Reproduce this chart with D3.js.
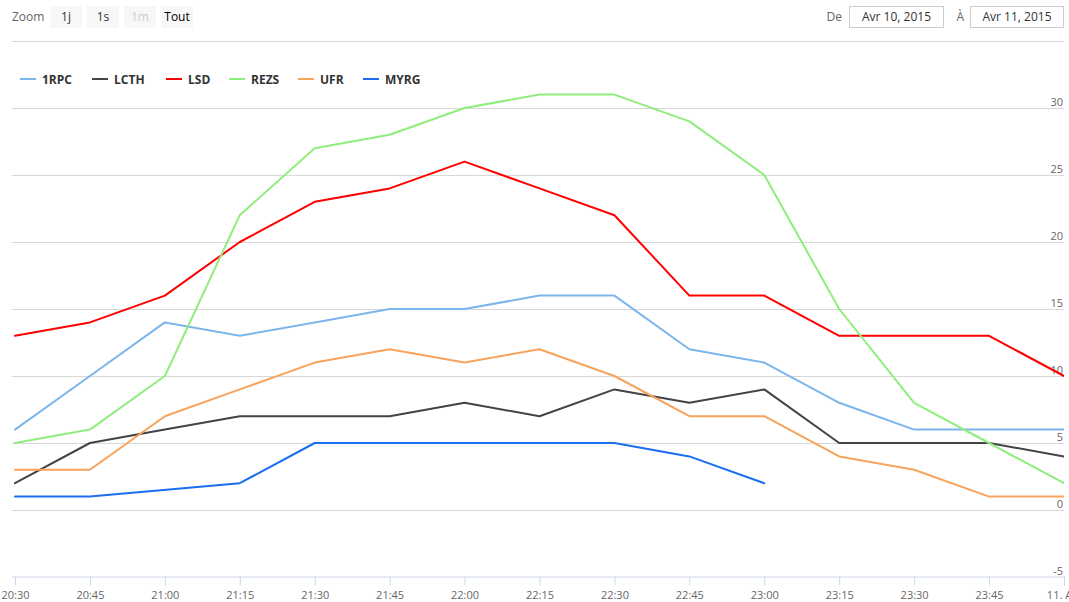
<!DOCTYPE html>
<html>
<head>
<meta charset="utf-8">
<script src="https://cdn.jsdelivr.net/npm/d3@7"></script>
<style>
  html, body { margin: 0; padding: 0; background: #fff; }
  svg { display: block; font-family: "Open Sans", "DejaVu Sans", sans-serif; }
</style>
</head>
<body>
<svg id="chart" width="1069" height="602"></svg>
<script>
// ---- Data ----
const times = ["2015-04-10T20:30","2015-04-10T20:45","2015-04-10T21:00","2015-04-10T21:15",
  "2015-04-10T21:30","2015-04-10T21:45","2015-04-10T22:00","2015-04-10T22:15",
  "2015-04-10T22:30","2015-04-10T22:45","2015-04-10T23:00","2015-04-10T23:15",
  "2015-04-10T23:30","2015-04-10T23:45","2015-04-11T00:00"];
const xTickLabels = ["20:30","20:45","21:00","21:15","21:30","21:45","22:00","22:15",
  "22:30","22:45","23:00","23:15","23:30","23:45","11. Avr"];
const yTicks = [-5, 0, 5, 10, 15, 20, 25, 30, 35];
const yTickLabels = ["-5","0","5","10","15","20","25","30",""];

const seriesNames = ["1RPC","LCTH","LSD","REZS","UFR","MYRG"];
const seriesColors = ["#7cb5ec","#434348","#ff0000","#90ed7d","#f7a35c","#1a6ef0"];
const s1RPC = [6,10,14,13,14,15,15,16,16,12,11,8,6,6,6];
const sLCTH = [2,5,6,7,7,7,8,7,9,8,9,5,5,5,4];
const sLSD  = [13,14,16,20,23,24,26,24,22,16,16,13,13,13,10];
const sREZS = [5,6,10,22,27,28,30,31,31,29,25,15,8,5,2];
const sUFR  = [3,3,7,9,11,12,11,12,10,7,7,4,3,1,1];
const sMYRG = [1,1,null,2,5,5,5,5,5,4,2,null,null,null,null];
const seriesValues = [s1RPC, sLCTH, sLSD, sREZS, sUFR, sMYRG];

const rangeButtons = ["1j","1s","1m","Tout"];
const fromDate = "Avr 10, 2015";
const toDate = "Avr 11, 2015";

// ---- Layout ----
const svg = d3.select("#chart");
const plotLeft = 12, plotRight = 1064, plotTop = 41, plotBottom = 577;
const parse = d3.utcParse("%Y-%m-%dT%H:%M");
const dates = times.map(parse);

const x = d3.scaleUtc().domain([dates[0], dates[dates.length-1]]).range([15, plotRight]);
const y = d3.scaleLinear().domain([-5, 35]).range([plotBottom, plotTop]);

// clip
svg.append("defs").append("clipPath").attr("id","plotclip")
  .append("rect").attr("x", plotLeft).attr("y", plotTop - 5)
  .attr("width", plotRight - plotLeft).attr("height", plotBottom - plotTop + 10);

// grid
const grid = svg.append("g").attr("transform", `translate(${plotLeft},0)`)
  .call(d3.axisRight(y).tickValues(yTicks.filter(v => v > -5)).tickSize(plotRight - plotLeft).tickFormat(""));
grid.select(".domain").remove();
grid.selectAll("line").attr("stroke", "#d8d8d8").attr("stroke-width", 1).attr("shape-rendering","crispEdges");

// y labels (inside right)
const yAx = svg.append("g").attr("transform", `translate(1063,0)`)
  .call(d3.axisLeft(y).tickValues(yTicks).tickSize(0).tickPadding(0)
    .tickFormat((d,i) => yTickLabels[i]));
yAx.select(".domain").remove();
yAx.selectAll("text").attr("fill", "#666").attr("font-size", "11px")
  .attr("dy", "-3").attr("font-family", "Open Sans, sans-serif");

// x axis
const xAx = svg.append("g").attr("transform", `translate(0,${plotBottom - 0.5})`)
  .call(d3.axisBottom(x).tickValues(dates).tickSize(9).tickPadding(6)
    .tickFormat((d,i) => xTickLabels[i]));
xAx.select(".domain").attr("d", `M${plotLeft},0.5H${plotRight}`).attr("stroke", "#ccd6eb");
xAx.selectAll(".tick line").attr("stroke", "#ccd6eb");
xAx.selectAll("text").attr("fill", "#666").attr("font-size", "11px").attr("font-family", "Open Sans, sans-serif");

// lines
const plot = svg.append("g").attr("clip-path", "url(#plotclip)");
seriesValues.forEach((vals, si) => {
  const pts = vals.map((v, i) => ({d: dates[i], v})).filter(p => p.v !== null);
  const line = d3.line().x(p => x(p.d)).y(p => y(p.v));
  plot.append("path").datum(pts).attr("d", line)
    .attr("fill", "none").attr("stroke", seriesColors[si]).attr("stroke-width", 2)
    .attr("stroke-linejoin", "round").attr("stroke-linecap", "round");
});

// legend
const legendX = [20, 92, 166, 229, 298, 363];
const legend = svg.append("g");
seriesNames.forEach((n, i) => {
  const g = legend.append("g").attr("transform", `translate(${legendX[i]},79)`);
  g.append("line").attr("x1", 0).attr("x2", 16).attr("y1", 0).attr("y2", 0)
    .attr("stroke", seriesColors[i]).attr("stroke-width", 2);
  g.append("text").attr("x", 22).attr("y", 4.5).text(n)
    .attr("font-size", "12px").attr("font-weight", "bold").attr("fill", "#333");
});

// range selector
const rs = svg.append("g");
rs.append("text").attr("x", 12).attr("y", 21).text("Zoom").attr("font-size", "12px").attr("fill", "#666");
const btnX = [50, 87, 124, 161];
rangeButtons.forEach((b, i) => {
  const g = rs.append("g").attr("transform", `translate(${btnX[i]},6)`);
  g.append("rect").attr("width", 32).attr("height", 22).attr("fill", "#f7f7f7");
  g.append("text").attr("x", 16).attr("y", 15).attr("text-anchor", "middle").text(b)
    .attr("font-size", "12px").attr("fill", i === 2 ? "#ccc" : (i === 3 ? "#000" : "#333"));
});

// date inputs
rs.append("text").attr("x", 842).attr("y", 21).attr("text-anchor", "end").text("De").attr("font-size", "12px").attr("fill", "#666");
rs.append("rect").attr("x", 849.5).attr("y", 6.5).attr("width", 94).attr("height", 21).attr("fill", "#fff").attr("stroke", "#ccc");
rs.append("text").attr("x", 896.5).attr("y", 21).attr("text-anchor", "middle").text(fromDate).attr("font-size", "12px").attr("fill", "#333");
rs.append("text").attr("x", 964).attr("y", 21).attr("text-anchor", "end").text("À").attr("font-size", "12px").attr("fill", "#666");
rs.append("rect").attr("x", 970.5).attr("y", 6.5).attr("width", 93).attr("height", 21).attr("fill", "#fff").attr("stroke", "#ccc");
rs.append("text").attr("x", 1017).attr("y", 21).attr("text-anchor", "middle").text(toDate).attr("font-size", "12px").attr("fill", "#333");
</script>
</body>
</html>
